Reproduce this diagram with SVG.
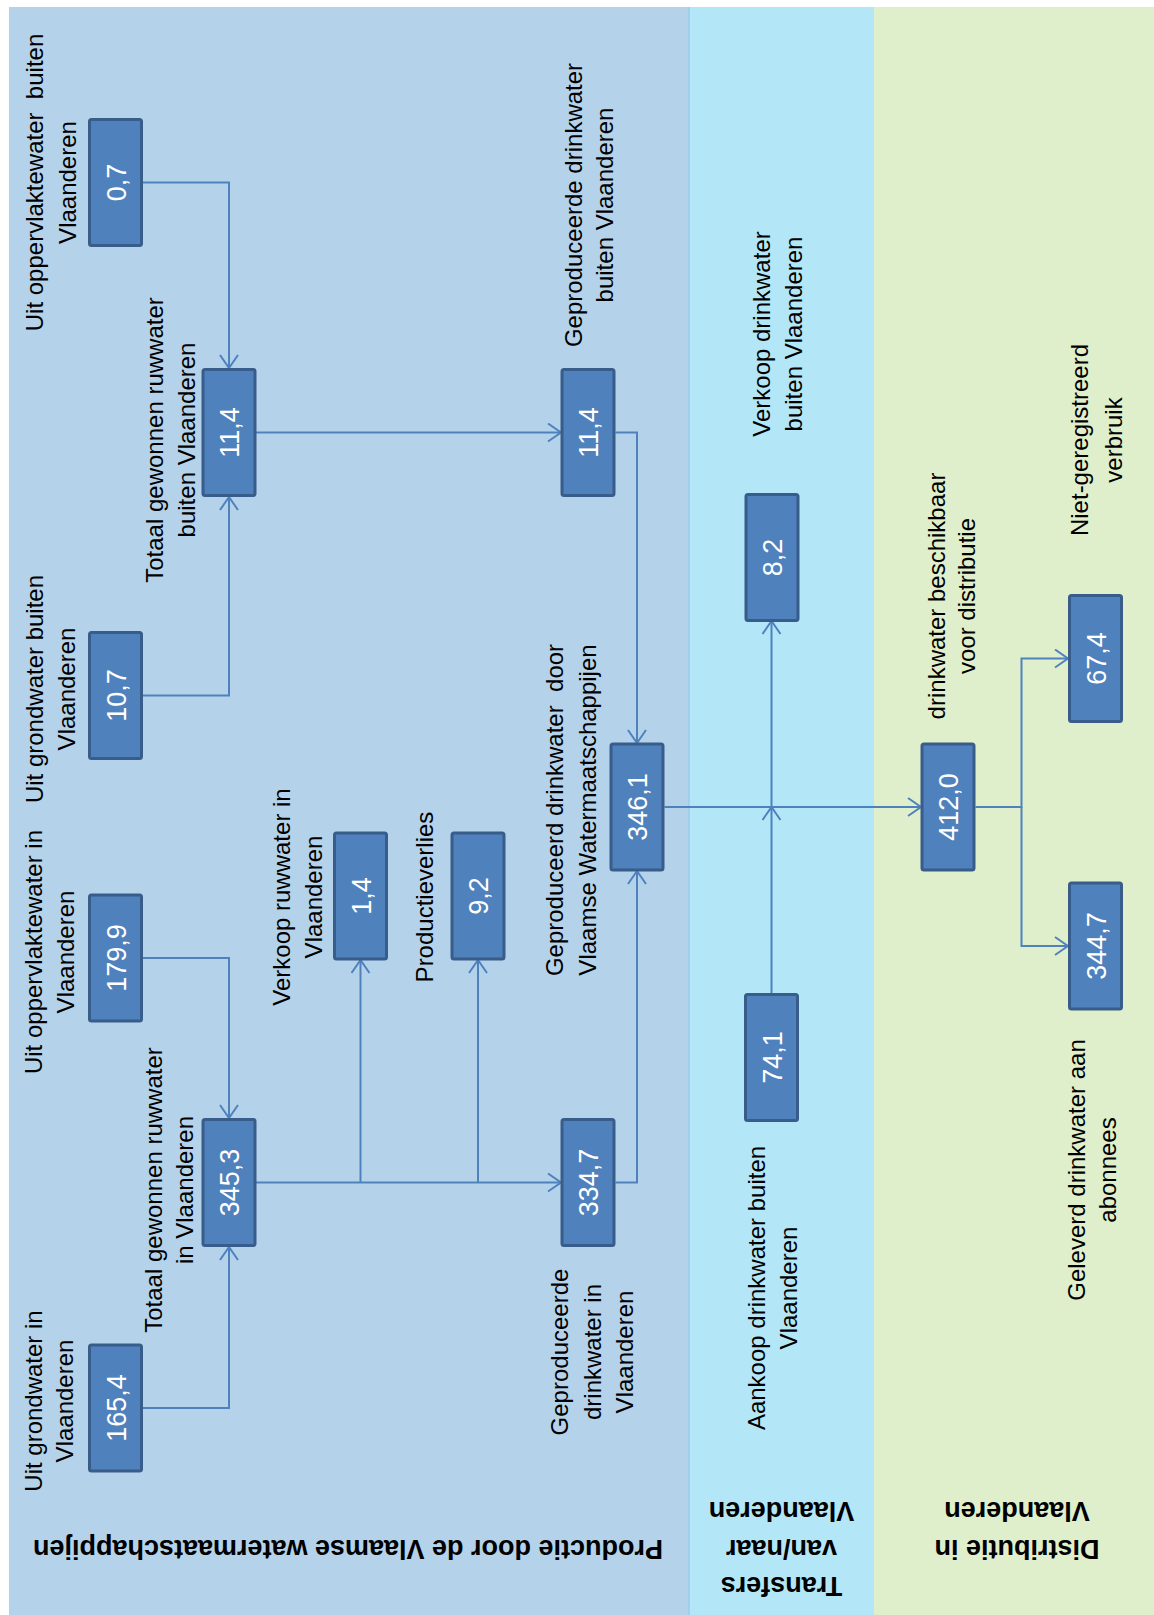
<svg xmlns="http://www.w3.org/2000/svg" width="1154" height="1615" viewBox="0 0 1154 1615">
<style>
.bx{fill:#4F81BD;stroke:#385D8A;stroke-width:3}
.num{font-family:"Liberation Sans",Arial,sans-serif;font-size:27px;fill:#fff;text-anchor:middle}
.lbl{font-family:"Liberation Sans",Arial,sans-serif;font-size:24px;fill:#000;text-anchor:middle}
.hdr{font-family:"Liberation Sans",Arial,sans-serif;font-size:27px;font-weight:bold;fill:#000;text-anchor:middle}
.cn{fill:none;stroke:#4F81BD;stroke-width:2}
.ar{fill:none;stroke:#4F81BD;stroke-width:2}
</style>
<defs>
<marker id="arr" markerUnits="userSpaceOnUse" viewBox="0 0 16 20" markerWidth="16" markerHeight="20" refX="14" refY="10" orient="auto">
<path class="ar" d="M1,1 L14,10 L1,19"/>
</marker>
</defs>
<rect x="0" y="0" width="1154" height="1615" fill="#fff"/>
<g id="sections">
<rect x="9" y="7" width="680" height="1608" fill="#B4D3EB"/>
<rect x="689" y="7" width="185" height="1608" fill="#B3E7F8"/>
<rect x="874" y="7" width="280" height="1608" fill="#DFEFCB"/>
<line x1="689" y1="7" x2="689" y2="1615" stroke="#9CCBEA" stroke-width="1.5"/>
</g>
<g id="headers">
<text class="hdr" transform="translate(348,1540) rotate(180)">Productie door de Vlaamse watermaatschappijen</text>
<text class="hdr" transform="translate(781.5,1577) rotate(180)">Transfers</text>
<text class="hdr" transform="translate(781.5,1540) rotate(180)">van/naar</text>
<text class="hdr" transform="translate(781.5,1502) rotate(180)">Vlaanderen</text>
<text class="hdr" transform="translate(1017,1540) rotate(180)">Distributie in</text>
<text class="hdr" transform="translate(1017,1502) rotate(180)">Vlaanderen</text>
</g>
<g id="connectors">
<path class="cn" d="M143,182.5 H229 V368" marker-end="url(#arr)"/>
<path class="cn" d="M143,695.5 H229 V497" marker-end="url(#arr)"/>
<path class="cn" d="M256,432.5 H561" marker-end="url(#arr)"/>
<path class="cn" d="M615.5,432.5 H637 V743" marker-end="url(#arr)"/>
<path class="cn" d="M143,958 H229 V1118" marker-end="url(#arr)"/>
<path class="cn" d="M143,1408 H229 V1247" marker-end="url(#arr)"/>
<path class="cn" d="M256,1182.5 H561" marker-end="url(#arr)"/>
<path class="cn" d="M360.5,1182.5 V960" marker-end="url(#arr)"/>
<path class="cn" d="M478,1182.5 V960" marker-end="url(#arr)"/>
<path class="cn" d="M615.5,1182.5 H637 V871" marker-end="url(#arr)"/>
<path class="cn" d="M664.5,807 H921" marker-end="url(#arr)"/>
<path class="cn" d="M771.5,993 V807" marker-end="url(#arr)"/>
<path class="cn" d="M771.5,807 V621" marker-end="url(#arr)"/>
<path class="cn" d="M975.5,807 H1021.5 V658.5 H1068" marker-end="url(#arr)"/>
<path class="cn" d="M1021.5,807 V946 H1068" marker-end="url(#arr)"/>
</g>
<g id="n07"><rect class="bx" x="89.5" y="119.5" width="52" height="126" rx="2"/><text class="num" transform="translate(115.5,182.5) rotate(-90)" y="10">0,7</text></g>
<g id="n114a"><rect class="bx" x="203" y="369.5" width="52" height="126" rx="2"/><text class="num" transform="translate(229,432.5) rotate(-90)" y="10">11,4</text></g>
<g id="n107"><rect class="bx" x="89.5" y="632.5" width="52" height="126" rx="2"/><text class="num" transform="translate(115.5,695.5) rotate(-90)" y="10">10,7</text></g>
<g id="n1799"><rect class="bx" x="89.5" y="895" width="52" height="126" rx="2"/><text class="num" transform="translate(115.5,958) rotate(-90)" y="10">179,9</text></g>
<g id="n3453"><rect class="bx" x="203" y="1119.5" width="52" height="126" rx="2"/><text class="num" transform="translate(229,1182.5) rotate(-90)" y="10">345,3</text></g>
<g id="n1654"><rect class="bx" x="89.5" y="1345" width="52" height="126" rx="2"/><text class="num" transform="translate(115.5,1408) rotate(-90)" y="10">165,4</text></g>
<g id="n14"><rect class="bx" x="334.5" y="833" width="52" height="126" rx="2"/><text class="num" transform="translate(360.5,896) rotate(-90)" y="10">1,4</text></g>
<g id="n92"><rect class="bx" x="452" y="833" width="52" height="126" rx="2"/><text class="num" transform="translate(478,896) rotate(-90)" y="10">9,2</text></g>
<g id="n3347"><rect class="bx" x="562" y="1119.5" width="52" height="126" rx="2"/><text class="num" transform="translate(588,1182.5) rotate(-90)" y="10">334,7</text></g>
<g id="n114b"><rect class="bx" x="562" y="369.5" width="52" height="126" rx="2"/><text class="num" transform="translate(588,432.5) rotate(-90)" y="10">11,4</text></g>
<g id="n3461"><rect class="bx" x="611" y="744" width="52" height="126" rx="2"/><text class="num" transform="translate(637,807) rotate(-90)" y="10">346,1</text></g>
<g id="n82"><rect class="bx" x="746" y="494.5" width="52" height="126" rx="2"/><text class="num" transform="translate(772,557.5) rotate(-90)" y="10">8,2</text></g>
<g id="n741"><rect class="bx" x="745.5" y="994.5" width="52" height="126" rx="2"/><text class="num" transform="translate(771.5,1057.5) rotate(-90)" y="10">74,1</text></g>
<g id="n4120"><rect class="bx" x="922" y="744" width="52" height="126" rx="2"/><text class="num" transform="translate(948,807) rotate(-90)" y="10">412,0</text></g>
<g id="n674"><rect class="bx" x="1069.5" y="595.5" width="52" height="126" rx="2"/><text class="num" transform="translate(1095.5,658.5) rotate(-90)" y="10">67,4</text></g>
<g id="n3447"><rect class="bx" x="1069.5" y="883" width="52" height="126" rx="2"/><text class="num" transform="translate(1095.5,946) rotate(-90)" y="10">344,7</text></g>
<g id="labels">
<g transform="translate(0,182.5) rotate(-90)"><text class="lbl" xml:space="preserve" y="43">Uit oppervlaktewater  buiten</text><text class="lbl" y="76">Vlaanderen</text></g>
<g transform="translate(0,440) rotate(-90)"><text class="lbl" y="163">Totaal gewonnen ruwwater</text><text class="lbl" y="195">buiten Vlaanderen</text></g>
<g transform="translate(0,689) rotate(-90)"><text class="lbl" y="43">Uit grondwater buiten</text><text class="lbl" y="75">Vlaanderen</text></g>
<g transform="translate(0,952) rotate(-90)"><text class="lbl" y="42">Uit oppervlaktewater in</text><text class="lbl" y="74">Vlaanderen</text></g>
<g transform="translate(0,1190) rotate(-90)"><text class="lbl" y="162">Totaal gewonnen ruwwater</text><text class="lbl" y="193">in Vlaanderen</text></g>
<g transform="translate(0,1401) rotate(-90)"><text class="lbl" y="42">Uit grondwater in</text><text class="lbl" y="73">Vlaanderen</text></g>
<g transform="translate(0,897) rotate(-90)"><text class="lbl" y="290">Verkoop ruwwater in</text><text class="lbl" y="322">Vlaanderen</text></g>
<g transform="translate(0,897) rotate(-90)"><text class="lbl" y="433">Productieverlies</text></g>
<g transform="translate(0,810) rotate(-90)"><text class="lbl" xml:space="preserve" y="563">Geproduceerd drinkwater  door</text><text class="lbl" y="596">Vlaamse Watermaatschappijen</text></g>
<g transform="translate(0,1352) rotate(-90)"><text class="lbl" y="568">Geproduceerde</text><text class="lbl" y="601">drinkwater in</text><text class="lbl" y="633">Vlaanderen</text></g>
<g transform="translate(0,205) rotate(-90)"><text class="lbl" y="582">Geproduceerde drinkwater</text><text class="lbl" y="613">buiten Vlaanderen</text></g>
<g transform="translate(0,334) rotate(-90)"><text class="lbl" y="770">Verkoop drinkwater</text><text class="lbl" y="802">buiten Vlaanderen</text></g>
<g transform="translate(0,1288) rotate(-90)"><text class="lbl" y="765">Aankoop drinkwater buiten</text><text class="lbl" y="797">Vlaanderen</text></g>
<g transform="translate(0,596) rotate(-90)"><text class="lbl" y="945">drinkwater beschikbaar</text><text class="lbl" y="975">voor distributie</text></g>
<g transform="translate(0,440) rotate(-90)"><text class="lbl" y="1088">Niet-geregistreerd</text><text class="lbl" y="1122">verbruik</text></g>
<g transform="translate(0,1170) rotate(-90)"><text class="lbl" y="1085">Geleverd drinkwater aan</text><text class="lbl" y="1116">abonnees</text></g>
</g>
</svg>
